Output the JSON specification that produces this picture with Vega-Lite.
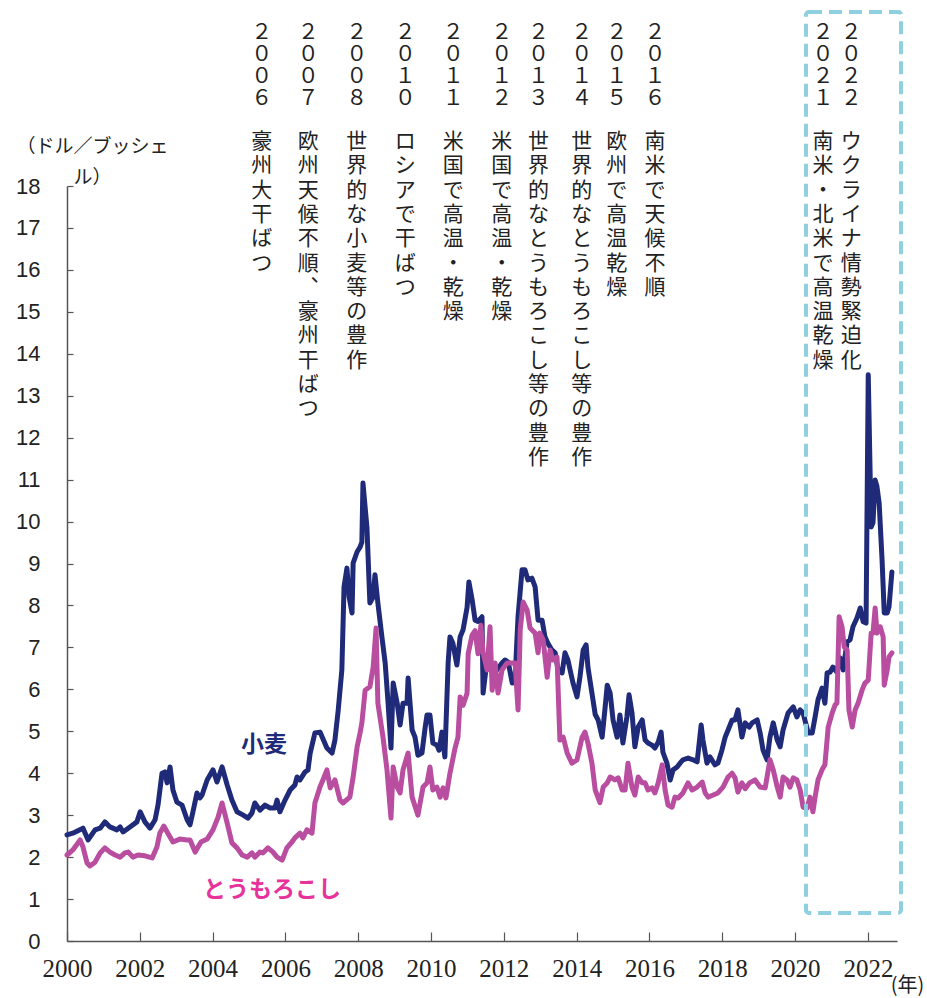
{
  "$schema": "https://vega.github.io/schema/vega-lite/v6.json",
  "width": 830,
  "height": 755,
  "autosize": {"type": "none"},
  "padding": {"left": 67, "top": 186, "right": 30, "bottom": 57},
  "background": "white",
  "config": {"view": {"stroke": null}, "font": "Liberation Sans"},
  "datasets": {
    "wheat": [
      {"year":2000.00,"price":2.53},{"year":2000.16,"price":2.57},{"year":2000.44,"price":2.69},{"year":2000.58,"price":2.41},{"year":2000.77,"price":2.65},{"year":2000.91,"price":2.69},
      {"year":2001.04,"price":2.84},{"year":2001.18,"price":2.72},{"year":2001.37,"price":2.65},{"year":2001.46,"price":2.72},{"year":2001.54,"price":2.60},{"year":2001.73,"price":2.72},{"year":2001.92,"price":2.84},
      {"year":2002.01,"price":3.08},{"year":2002.14,"price":2.84},{"year":2002.28,"price":2.69},{"year":2002.42,"price":2.89},{"year":2002.50,"price":3.24},{"year":2002.61,"price":4.00},{"year":2002.69,"price":4.03},{"year":2002.75,"price":3.77},{"year":2002.83,"price":4.15},{"year":2002.91,"price":3.60},
      {"year":2003.02,"price":3.31},{"year":2003.16,"price":3.24},{"year":2003.30,"price":2.89},{"year":2003.38,"price":2.77},{"year":2003.46,"price":3.08},{"year":2003.57,"price":3.53},{"year":2003.65,"price":3.41},{"year":2003.71,"price":3.48},{"year":2003.85,"price":3.84},
      {"year":2004.01,"price":4.08},{"year":2004.12,"price":3.79},{"year":2004.26,"price":4.15},{"year":2004.40,"price":3.72},{"year":2004.53,"price":3.36},{"year":2004.67,"price":3.08},{"year":2004.84,"price":3.00},{"year":2004.97,"price":2.93},
      {"year":2005.08,"price":3.05},{"year":2005.16,"price":3.29},{"year":2005.30,"price":3.12},{"year":2005.44,"price":3.24},{"year":2005.58,"price":3.17},{"year":2005.71,"price":3.17},{"year":2005.77,"price":3.36},{"year":2005.85,"price":3.08},{"year":2005.99,"price":3.36},
      {"year":2006.13,"price":3.60},{"year":2006.26,"price":3.72},{"year":2006.32,"price":3.91},{"year":2006.40,"price":3.84},{"year":2006.54,"price":4.03},{"year":2006.62,"price":4.08},{"year":2006.68,"price":4.48},{"year":2006.81,"price":4.96},{"year":2006.95,"price":4.98},
      {"year":2007.14,"price":4.60},{"year":2007.28,"price":4.48},{"year":2007.36,"price":4.79},{"year":2007.45,"price":5.50},{"year":2007.55,"price":6.46},{"year":2007.61,"price":8.44},{"year":2007.69,"price":8.89},{"year":2007.75,"price":8.20},{"year":2007.83,"price":7.82},{"year":2007.86,"price":9.01},{"year":2007.97,"price":9.28},
      {"year":2008.05,"price":9.39},{"year":2008.10,"price":9.51},{"year":2008.13,"price":10.92},{"year":2008.24,"price":9.85},{"year":2008.32,"price":8.06},{"year":2008.41,"price":8.20},{"year":2008.46,"price":8.73},{"year":2008.54,"price":8.06},{"year":2008.65,"price":7.25},{"year":2008.74,"price":6.63},{"year":2008.82,"price":5.67},{"year":2008.90,"price":4.60},{"year":2008.96,"price":6.15},
      {"year":2009.07,"price":5.67},{"year":2009.15,"price":5.15},{"year":2009.23,"price":5.67},{"year":2009.34,"price":5.67},{"year":2009.37,"price":6.27},{"year":2009.48,"price":5.03},{"year":2009.56,"price":4.86},{"year":2009.64,"price":4.43},{"year":2009.75,"price":4.48},{"year":2009.84,"price":5.10},{"year":2009.89,"price":5.39},{"year":2009.97,"price":5.39},
      {"year":2010.05,"price":4.72},{"year":2010.16,"price":4.67},{"year":2010.22,"price":4.55},{"year":2010.30,"price":4.98},{"year":2010.38,"price":4.39},{"year":2010.47,"price":6.63},{"year":2010.52,"price":7.25},{"year":2010.60,"price":7.10},{"year":2010.71,"price":6.58},{"year":2010.80,"price":7.25},{"year":2010.88,"price":7.42},{"year":2010.99,"price":7.95},
      {"year":2011.04,"price":8.56},{"year":2011.13,"price":8.13},{"year":2011.21,"price":7.65},{"year":2011.29,"price":7.62},{"year":2011.40,"price":7.73},{"year":2011.43,"price":5.91},{"year":2011.54,"price":6.70},{"year":2011.62,"price":6.63},{"year":2011.70,"price":6.46},{"year":2011.81,"price":6.46},{"year":2011.95,"price":6.63},
      {"year":2012.03,"price":6.70},{"year":2012.12,"price":6.65},{"year":2012.23,"price":6.15},{"year":2012.31,"price":6.29},{"year":2012.39,"price":7.73},{"year":2012.50,"price":8.85},{"year":2012.58,"price":8.85},{"year":2012.66,"price":8.61},{"year":2012.77,"price":8.65},{"year":2012.86,"price":8.44},{"year":2012.94,"price":7.65},
      {"year":2013.05,"price":7.65},{"year":2013.13,"price":7.25},{"year":2013.21,"price":7.10},{"year":2013.32,"price":6.94},{"year":2013.41,"price":6.87},{"year":2013.49,"price":6.46},{"year":2013.60,"price":6.39},{"year":2013.68,"price":6.87},{"year":2013.76,"price":6.70},{"year":2013.90,"price":6.15},
      {"year":2014.01,"price":5.82},{"year":2014.09,"price":6.29},{"year":2014.18,"price":6.94},{"year":2014.26,"price":7.06},{"year":2014.31,"price":6.53},{"year":2014.42,"price":5.91},{"year":2014.51,"price":5.40},{"year":2014.59,"price":5.27},{"year":2014.70,"price":4.86},{"year":2014.78,"price":5.55},{"year":2014.84,"price":6.10},{"year":2014.92,"price":5.91},
      {"year":2015.00,"price":5.27},{"year":2015.11,"price":4.86},{"year":2015.19,"price":5.39},{"year":2015.27,"price":4.72},{"year":2015.38,"price":5.34},{"year":2015.44,"price":5.87},{"year":2015.52,"price":5.44},{"year":2015.60,"price":4.63},{"year":2015.69,"price":5.10},{"year":2015.80,"price":5.27},{"year":2015.88,"price":4.79},{"year":2015.96,"price":4.72},
      {"year":2016.07,"price":4.67},{"year":2016.15,"price":4.60},{"year":2016.24,"price":4.74},{"year":2016.32,"price":4.98},{"year":2016.37,"price":4.50},{"year":2016.48,"price":4.24},{"year":2016.57,"price":3.84},{"year":2016.65,"price":4.08},{"year":2016.76,"price":4.15},{"year":2016.84,"price":4.24},{"year":2016.92,"price":4.32},
      {"year":2017.06,"price":4.36},{"year":2017.20,"price":4.32},{"year":2017.31,"price":4.27},{"year":2017.42,"price":5.15},{"year":2017.47,"price":4.79},{"year":2017.58,"price":4.24},{"year":2017.66,"price":4.39},{"year":2017.80,"price":4.20},{"year":2017.88,"price":4.24},{"year":2017.99,"price":4.55},
      {"year":2018.08,"price":4.86},{"year":2018.16,"price":5.03},{"year":2018.27,"price":5.27},{"year":2018.35,"price":5.27},{"year":2018.43,"price":5.51},{"year":2018.54,"price":4.86},{"year":2018.63,"price":5.20},{"year":2018.74,"price":5.10},{"year":2018.82,"price":5.20},{"year":2018.96,"price":5.27},
      {"year":2019.04,"price":4.96},{"year":2019.12,"price":4.55},{"year":2019.23,"price":4.32},{"year":2019.31,"price":4.86},{"year":2019.40,"price":5.20},{"year":2019.51,"price":4.79},{"year":2019.59,"price":4.63},{"year":2019.67,"price":5.03},{"year":2019.81,"price":5.44},{"year":2019.95,"price":5.58},
      {"year":2020.05,"price":5.34},{"year":2020.14,"price":5.51},{"year":2020.22,"price":5.44},{"year":2020.36,"price":4.96},{"year":2020.47,"price":4.96},{"year":2020.55,"price":5.34},{"year":2020.63,"price":5.75},{"year":2020.74,"price":6.03},{"year":2020.82,"price":5.67},{"year":2020.88,"price":6.39},{"year":2020.96,"price":6.41},
      {"year":2021.04,"price":6.53},{"year":2021.15,"price":6.41},{"year":2021.24,"price":6.75},{"year":2021.32,"price":6.46},{"year":2021.43,"price":7.13},{"year":2021.51,"price":7.18},{"year":2021.59,"price":7.49},{"year":2021.70,"price":7.70},{"year":2021.79,"price":7.94},{"year":2021.87,"price":7.61},{"year":2021.95,"price":7.58},
      {"year":2022.01,"price":13.50},{"year":2022.09,"price":9.87},{"year":2022.14,"price":9.97},{"year":2022.20,"price":10.99},{"year":2022.25,"price":10.83},{"year":2022.31,"price":10.44},{"year":2022.39,"price":9.08},{"year":2022.45,"price":7.82},{"year":2022.53,"price":7.82},{"year":2022.58,"price":7.96},{"year":2022.66,"price":8.80}
    ],
    "corn": [
      {"year":2000.00,"price":2.05},{"year":2000.16,"price":2.17},{"year":2000.36,"price":2.41},{"year":2000.44,"price":2.24},{"year":2000.55,"price":1.86},{"year":2000.63,"price":1.79},{"year":2000.77,"price":1.88},{"year":2000.91,"price":2.10},
      {"year":2001.04,"price":2.22},{"year":2001.18,"price":2.12},{"year":2001.32,"price":2.05},{"year":2001.46,"price":2.00},{"year":2001.59,"price":2.10},{"year":2001.68,"price":2.12},{"year":2001.81,"price":2.00},{"year":2001.95,"price":2.05},
      {"year":2002.14,"price":2.03},{"year":2002.34,"price":1.98},{"year":2002.47,"price":2.24},{"year":2002.55,"price":2.57},{"year":2002.66,"price":2.74},{"year":2002.77,"price":2.57},{"year":2002.91,"price":2.36},
      {"year":2003.10,"price":2.43},{"year":2003.30,"price":2.41},{"year":2003.38,"price":2.41},{"year":2003.52,"price":2.12},{"year":2003.68,"price":2.36},{"year":2003.85,"price":2.43},
      {"year":2004.01,"price":2.65},{"year":2004.15,"price":2.95},{"year":2004.26,"price":3.29},{"year":2004.40,"price":2.81},{"year":2004.53,"price":2.34},{"year":2004.67,"price":2.22},{"year":2004.81,"price":2.05},{"year":2004.95,"price":2.00},
      {"year":2005.08,"price":2.10},{"year":2005.16,"price":2.00},{"year":2005.30,"price":2.12},{"year":2005.38,"price":2.10},{"year":2005.52,"price":2.22},{"year":2005.66,"price":2.12},{"year":2005.77,"price":2.00},{"year":2005.91,"price":1.93},
      {"year":2006.04,"price":2.22},{"year":2006.18,"price":2.36},{"year":2006.26,"price":2.46},{"year":2006.40,"price":2.57},{"year":2006.48,"price":2.46},{"year":2006.59,"price":2.65},{"year":2006.73,"price":2.57},{"year":2006.81,"price":3.29},{"year":2006.95,"price":3.67},
      {"year":2007.03,"price":3.84},{"year":2007.14,"price":4.08},{"year":2007.23,"price":3.65},{"year":2007.36,"price":3.84},{"year":2007.50,"price":3.36},{"year":2007.58,"price":3.29},{"year":2007.77,"price":3.43},{"year":2007.86,"price":3.91},{"year":2007.97,"price":4.63},
      {"year":2008.05,"price":4.96},{"year":2008.10,"price":5.20},{"year":2008.19,"price":5.98},{"year":2008.32,"price":6.06},{"year":2008.41,"price":6.53},{"year":2008.49,"price":7.46},{"year":2008.54,"price":5.67},{"year":2008.68,"price":4.86},{"year":2008.79,"price":4.08},{"year":2008.90,"price":2.93},{"year":2008.96,"price":4.15},
      {"year":2009.07,"price":3.67},{"year":2009.15,"price":3.53},{"year":2009.23,"price":4.08},{"year":2009.37,"price":4.48},{"year":2009.48,"price":3.43},{"year":2009.64,"price":3.00},{"year":2009.78,"price":3.67},{"year":2009.89,"price":3.77},{"year":2009.97,"price":4.15},
      {"year":2010.05,"price":3.60},{"year":2010.16,"price":3.67},{"year":2010.25,"price":3.43},{"year":2010.33,"price":3.65},{"year":2010.41,"price":3.41},{"year":2010.52,"price":4.00},{"year":2010.66,"price":4.60},{"year":2010.74,"price":4.86},{"year":2010.80,"price":5.82},{"year":2010.88,"price":5.62},{"year":2010.99,"price":5.91},
      {"year":2011.02,"price":6.85},{"year":2011.13,"price":7.30},{"year":2011.21,"price":7.40},{"year":2011.29,"price":6.85},{"year":2011.37,"price":7.53},{"year":2011.43,"price":6.87},{"year":2011.54,"price":6.46},{"year":2011.62,"price":7.49},{"year":2011.68,"price":5.98},{"year":2011.76,"price":6.63},{"year":2011.84,"price":5.91},{"year":2011.95,"price":6.46},
      {"year":2012.09,"price":6.63},{"year":2012.23,"price":6.63},{"year":2012.31,"price":6.63},{"year":2012.39,"price":5.51},{"year":2012.45,"price":7.42},{"year":2012.53,"price":8.08},{"year":2012.64,"price":7.89},{"year":2012.72,"price":7.46},{"year":2012.86,"price":7.34},{"year":2012.94,"price":6.87},{"year":2012.99,"price":7.34},
      {"year":2013.08,"price":7.18},{"year":2013.19,"price":6.29},{"year":2013.27,"price":6.94},{"year":2013.35,"price":6.70},{"year":2013.46,"price":6.77},{"year":2013.54,"price":4.79},{"year":2013.63,"price":4.86},{"year":2013.74,"price":4.48},{"year":2013.87,"price":4.24},
      {"year":2014.01,"price":4.32},{"year":2014.15,"price":4.86},{"year":2014.23,"price":4.98},{"year":2014.31,"price":4.72},{"year":2014.42,"price":4.24},{"year":2014.51,"price":3.60},{"year":2014.64,"price":3.30},{"year":2014.73,"price":3.67},{"year":2014.84,"price":3.77},{"year":2014.92,"price":3.91},
      {"year":2015.05,"price":3.84},{"year":2015.14,"price":3.89},{"year":2015.25,"price":3.60},{"year":2015.33,"price":3.60},{"year":2015.41,"price":4.24},{"year":2015.52,"price":3.67},{"year":2015.60,"price":3.48},{"year":2015.69,"price":3.91},{"year":2015.80,"price":3.77},{"year":2015.88,"price":3.77},{"year":2015.96,"price":3.60},
      {"year":2016.07,"price":3.65},{"year":2016.15,"price":3.53},{"year":2016.24,"price":3.77},{"year":2016.35,"price":4.20},{"year":2016.43,"price":3.60},{"year":2016.51,"price":3.24},{"year":2016.62,"price":3.19},{"year":2016.70,"price":3.43},{"year":2016.79,"price":3.41},{"year":2016.92,"price":3.53},
      {"year":2017.06,"price":3.77},{"year":2017.17,"price":3.60},{"year":2017.31,"price":3.67},{"year":2017.45,"price":3.79},{"year":2017.53,"price":3.53},{"year":2017.61,"price":3.43},{"year":2017.75,"price":3.48},{"year":2017.88,"price":3.53},
      {"year":2018.02,"price":3.67},{"year":2018.16,"price":3.91},{"year":2018.27,"price":4.00},{"year":2018.35,"price":3.89},{"year":2018.43,"price":3.55},{"year":2018.54,"price":3.77},{"year":2018.63,"price":3.63},{"year":2018.75,"price":3.77},{"year":2018.90,"price":3.84},
      {"year":2019.04,"price":3.67},{"year":2019.18,"price":3.65},{"year":2019.31,"price":4.32},{"year":2019.40,"price":4.08},{"year":2019.51,"price":3.67},{"year":2019.59,"price":3.43},{"year":2019.67,"price":3.91},{"year":2019.78,"price":3.84},{"year":2019.86,"price":3.67},{"year":2019.95,"price":3.89},
      {"year":2020.05,"price":3.84},{"year":2020.14,"price":3.60},{"year":2020.22,"price":3.19},{"year":2020.33,"price":3.17},{"year":2020.41,"price":3.43},{"year":2020.49,"price":3.08},{"year":2020.55,"price":3.43},{"year":2020.63,"price":3.84},{"year":2020.74,"price":4.08},{"year":2020.82,"price":4.20},{"year":2020.91,"price":5.10},
      {"year":2021.02,"price":5.44},{"year":2021.10,"price":5.63},{"year":2021.15,"price":5.67},{"year":2021.21,"price":7.73},{"year":2021.29,"price":7.49},{"year":2021.35,"price":7.01},{"year":2021.43,"price":6.94},{"year":2021.48,"price":5.51},{"year":2021.57,"price":5.10},{"year":2021.65,"price":5.51},{"year":2021.73,"price":5.67},{"year":2021.84,"price":5.98},{"year":2021.92,"price":6.15},
      {"year":2022.01,"price":6.22},{"year":2022.09,"price":7.34},{"year":2022.14,"price":7.34},{"year":2022.20,"price":7.94},{"year":2022.25,"price":7.34},{"year":2022.34,"price":7.49},{"year":2022.42,"price":7.25},{"year":2022.45,"price":6.10},{"year":2022.53,"price":6.46},{"year":2022.58,"price":6.77},{"year":2022.66,"price":6.87}
    ],
    "events": [
      {"at":2005.35,"year":"２００６","event":"豪州大干ばつ"},
      {"at":2006.63,"year":"２００７","event":"欧州天候不順︑　豪州干ばつ"},
      {"at":2007.96,"year":"２００８","event":"世界的な小麦等の豊作"},
      {"at":2009.29,"year":"２０１０","event":"ロシアで干ばつ"},
      {"at":2010.61,"year":"２０１１","event":"米国で高温・乾燥"},
      {"at":2011.94,"year":"２０１２","event":"米国で高温・乾燥"},
      {"at":2012.95,"year":"２０１３","event":"世界的なとうもろこし等の豊作"},
      {"at":2014.14,"year":"２０１４","event":"世界的なとうもろこし等の豊作"},
      {"at":2015.10,"year":"２０１５","event":"欧州で高温乾燥"},
      {"at":2016.15,"year":"２０１６","event":"南米で天候不順"},
      {"at":2020.77,"year":"２０２１","event":"南米・北米で高温乾燥"},
      {"at":2021.54,"year":"２０２２","event":"ウクライナ情勢緊迫化"}
    ]
  },
  "layer": [
    {
      "data": {"name": "wheat"},
      "mark": {"type": "line", "color": "#1f2a78", "strokeWidth": 5, "strokeJoin": "round", "strokeCap": "round"},
      "encoding": {
        "x": {
          "field": "year", "type": "quantitative",
          "scale": {"domain": [2000, 2022.8], "nice": false, "zero": false},
          "axis": {
            "values": [2000,2001,2002,2003,2004,2005,2006,2007,2008,2009,2010,2011,2012,2013,2014,2015,2016,2017,2018,2019,2020,2021,2022],
            "format": "d",
            "labelExpr": "datum.value % 2 === 0 ? datum.label : ''",
            "labelFlush": false,
            "labelOverlap": false,
            "grid": false,
            "domainColor": "#555555", "domainWidth": 1.5,
            "tickColor": "#555555", "tickWidth": 1.2, "tickSize": -9,
            "labelFont": "Liberation Sans Narrow", "labelFontSize": 25, "labelColor": "#222222",
            "labelPadding": 36, "labelBaseline": "middle",
            "title": "(年)", "titleFont": "Noto Sans CJK JP", "titleFontSize": 20, "titleFontWeight": "normal", "titleColor": "#222222",
            "titleAnchor": "start", "titleAlign": "center", "titleBaseline": "middle", "titleX": 840, "titleY": 44
          }
        },
        "y": {
          "field": "price", "type": "quantitative",
          "scale": {"domain": [0, 18], "nice": false, "zero": false},
          "axis": {
            "values": [0,1,2,3,4,5,6,7,8,9,10,11,12,13,14,15,16,17,18],
            "grid": false,
            "domainColor": "#555555", "domainWidth": 1.5,
            "tickColor": "#555555", "tickWidth": 1.2, "tickSize": -6,
            "labelFont": "Liberation Sans", "labelFontSize": 22, "labelColor": "#222222",
            "labelPadding": 33,
            "title": ["（ドル／ブッシェ", "ル）"], "titleFont": "Noto Sans CJK JP", "titleFontSize": 19, "titleFontWeight": "normal", "titleColor": "#222222",
            "titleAngle": 0, "titleAnchor": "start", "titleAlign": "center", "titleBaseline": "top", "titleLineHeight": 31,
            "titleX": 25, "titleY": -49
          }
        }
      }
    },
    {
      "data": {"name": "corn"},
      "mark": {"type": "line", "color": "#b94d9f", "strokeWidth": 5, "strokeJoin": "round", "strokeCap": "round"},
      "encoding": {
        "x": {"field": "year", "type": "quantitative"},
        "y": {"field": "price", "type": "quantitative"}
      }
    },
    {
      "description": "Dashed frame around the 2021-2022 period",
      "data": {"values": [{}]},
      "mark": {"type": "rect", "fill": "transparent", "stroke": "#8ecfe0", "strokeWidth": 4, "strokeDash": [13, 7], "cornerRadius": 3},
      "encoding": {
        "x": {"datum": 2020.3, "type": "quantitative"},
        "x2": {"datum": 2022.91},
        "y": {"datum": 0.67, "type": "quantitative"},
        "y2": {"datum": 22.15}
      }
    },
    {
      "description": "Series label for wheat",
      "data": {"values": [{}]},
      "mark": {"type": "text", "text": "小麦", "font": "Noto Sans CJK JP", "fontSize": 23, "fontWeight": "bold", "color": "#1f2a78", "align": "center", "baseline": "middle"},
      "encoding": {
        "x": {"datum": 2005.41, "type": "quantitative"},
        "y": {"datum": 4.67, "type": "quantitative"}
      }
    },
    {
      "description": "Series label for corn",
      "data": {"values": [{}]},
      "mark": {"type": "text", "text": "とうもろこし", "font": "Noto Sans CJK JP", "fontSize": 23, "fontWeight": "bold", "color": "#e8329b", "align": "center", "baseline": "middle"},
      "encoding": {
        "x": {"datum": 2005.63, "type": "quantitative"},
        "y": {"datum": 1.22, "type": "quantitative"}
      }
    },
    {
      "description": "Event years, written top to bottom",
      "data": {"name": "events"},
      "mark": {"type": "text", "font": "Noto Sans CJK JP", "fontSize": 21, "lineHeight": 21.7, "lineBreak": {"expr": "regexp('')"}, "color": "#222222", "align": "center", "baseline": "top"},
      "encoding": {
        "x": {"field": "at", "type": "quantitative"},
        "y": {"datum": 21.9, "type": "quantitative"},
        "text": {"field": "year"}
      }
    },
    {
      "description": "Event descriptions, written top to bottom",
      "data": {"name": "events"},
      "mark": {"type": "text", "font": "Noto Sans CJK JP", "fontSize": 21, "lineHeight": 24.3, "lineBreak": {"expr": "regexp('')"}, "color": "#222222", "align": "center", "baseline": "top"},
      "encoding": {
        "x": {"field": "at", "type": "quantitative"},
        "y": {"datum": 19.31, "type": "quantitative"},
        "text": {"field": "event"}
      }
    }
  ]
}
